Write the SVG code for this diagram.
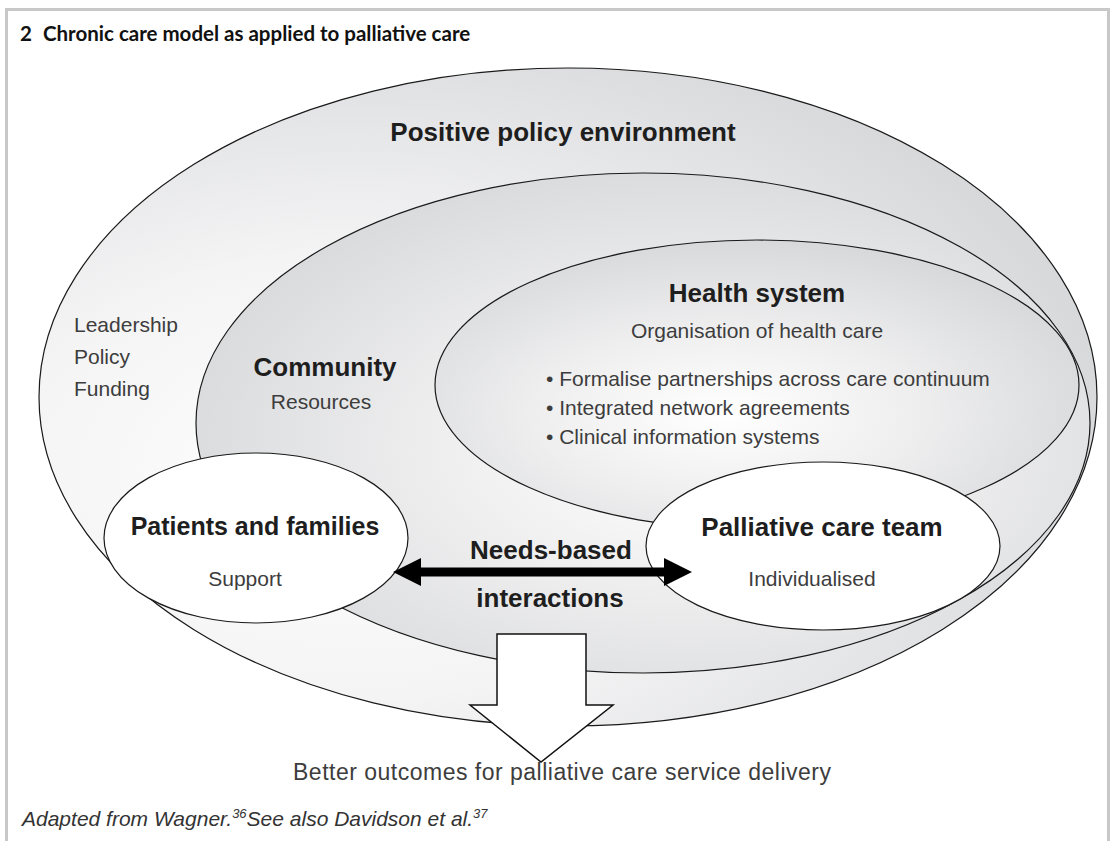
<svg xmlns="http://www.w3.org/2000/svg" width="1115" height="841" viewBox="0 0 1115 841">
<style>
.ell{stroke:#1a1a1a;stroke-width:1.2}
.bold{font-family:"Liberation Sans",Arial,sans-serif;font-weight:bold;font-size:26px;fill:#1e1e1e}
.reg{font-family:"Liberation Sans",Arial,sans-serif;font-size:21px;fill:#3d3d3d}
.title{font-family:Lato,"Liberation Sans",sans-serif;font-weight:bold;font-size:20.5px;fill:#111}
.cap{font-family:"Liberation Sans",Arial,sans-serif;font-style:italic;font-size:21px;fill:#333}
</style>
<defs>
<radialGradient id="gOuter" cx="0.3" cy="0.62" r="0.75">
<stop offset="0" stop-color="#ffffff"/><stop offset="0.45" stop-color="#f4f4f5"/><stop offset="1" stop-color="#d6d7d9"/>
</radialGradient>
<radialGradient id="gComm" cx="0.55" cy="0.55" r="0.6">
<stop offset="0" stop-color="#ffffff"/><stop offset="0.5" stop-color="#ededee"/><stop offset="1" stop-color="#d8d9db"/>
</radialGradient>
<radialGradient id="gHealth" cx="0.45" cy="0.6" r="0.6">
<stop offset="0" stop-color="#ffffff"/><stop offset="0.5" stop-color="#eeeeef"/><stop offset="1" stop-color="#d8d9db"/>
</radialGradient>
</defs>
<rect width="1115" height="841" fill="#ffffff"/>
<path d="M6.5,841 V9.5 H1108.5 V841" fill="none" stroke="#c8c8c8" stroke-width="3"/>
<text class="title" y="41"><tspan x="20">2</tspan><tspan x="43">Chronic care model as applied to palliative care</tspan></text>

<g id="policy">
<ellipse class="ell" cx="568" cy="397" rx="529" ry="329" fill="url(#gOuter)"/>
<text class="bold" x="563" y="141" text-anchor="middle">Positive policy environment</text>
<text class="reg" x="74" y="332">Leadership</text>
<text class="reg" x="74" y="364">Policy</text>
<text class="reg" x="74" y="396">Funding</text>
</g>
<g id="community">
<ellipse class="ell" cx="643" cy="423" rx="447" ry="250" fill="url(#gComm)"/>
<text class="bold" x="325" y="376" text-anchor="middle">Community</text>
<text class="reg" x="321" y="409" text-anchor="middle">Resources</text>
</g>
<g id="health">
<ellipse class="ell" cx="757" cy="385" rx="322" ry="145" fill="url(#gHealth)"/>
<text class="bold" x="757" y="302" text-anchor="middle">Health system</text>
<text class="reg" x="757" y="338" text-anchor="middle">Organisation of health care</text>
<text class="reg" x="546" y="386">• Formalise partnerships across care continuum</text>
<text class="reg" x="546" y="415">• Integrated network agreements</text>
<text class="reg" x="546" y="444">• Clinical information systems</text>
</g>
<g id="patients">
<ellipse class="ell" cx="256" cy="538" rx="152" ry="85" fill="#ffffff"/>
<text class="bold" x="255" y="535" text-anchor="middle" style="font-size:25px">Patients and families</text>
<text class="reg" x="245" y="586" text-anchor="middle">Support</text>
</g>
<g id="team">
<ellipse class="ell" cx="823" cy="546" rx="177" ry="84" fill="#ffffff"/>
<text class="bold" x="822" y="536" text-anchor="middle">Palliative care team</text>
<text class="reg" x="812" y="586" text-anchor="middle">Individualised</text>
</g>
<g id="connectors">
<path d="M393,572 L421,558 L421,567.5 L664,567.5 L664,558 L692,572 L664,586 L664,576.5 L421,576.5 L421,586 Z" fill="#000"/>
<text class="bold" x="551" y="559" text-anchor="middle">Needs-based</text>
<text class="bold" x="550" y="607" text-anchor="middle">interactions</text>
<path d="M497,634 H586 V705 H613 L541,762 L470,705 H497 Z" fill="#fff" stroke="#111" stroke-width="1.5"/>
</g>
<g id="outcome">
<text class="reg" x="562" y="780" text-anchor="middle" style="font-size:23px" textLength="538" lengthAdjust="spacing">Better outcomes for palliative care service delivery</text>
</g>
<text class="cap" x="22" y="826">Adapted from Wagner.<tspan font-size="13" dy="-8">36</tspan><tspan dy="8">See also Davidson et al.</tspan><tspan font-size="13" dy="-8">37</tspan></text>
</svg>
